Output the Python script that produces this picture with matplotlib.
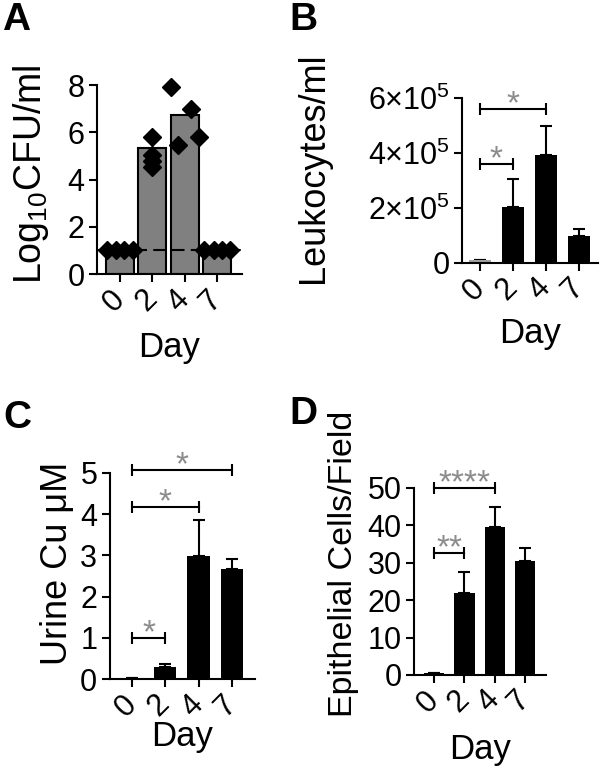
import matplotlib
matplotlib.use('Agg')
import matplotlib.pyplot as plt
import numpy as np

plt.rcParams['font.family'] = ['Liberation Sans', 'DejaVu Sans']
plt.rcParams['mathtext.fontset'] = 'custom'
plt.rcParams['mathtext.rm'] = 'Liberation Sans'
plt.rcParams['mathtext.it'] = 'Liberation Sans:italic'
plt.rcParams['axes.linewidth'] = 1.5

# data
days = ['0', '2', '4', '7']

cfu_mean = [1.0, 5.35, 6.75, 1.0]
cfu_points = [[1.0, 1.0, 1.0, 1.0],
              [5.8, 5.05, 4.8, 4.55],
              [7.9, 5.45, 7.0, 5.8],
              [1.0, 1.0, 1.0, 1.0]]
cfu_limit = 1.0

leuk_mean = [0.12e5, 2.05e5, 3.92e5, 0.97e5]
leuk_err = [0, 1.0e5, 1.08e5, 0.28e5]
leuk_sig = [(0, 1, 3.6e5, '*'), (0, 2, 5.6e5, '*')]

cu_mean = [0.03, 0.29, 2.98, 2.68]
cu_err = [0, 0.08, 0.89, 0.23]
cu_sig = [(0, 1, 1.0, '*'), (0, 2, 4.17, '*'), (0, 3, 5.08, '*')]

epi_mean = [0.6, 21.9, 39.5, 30.4]
epi_err = [0, 5.6, 5.3, 3.5]
epi_sig = [(0, 1, 32.6, '**'), (0, 2, 50, '****')]

# horizontal scatter of the dots inside each bar (layout only)
jitter = [[-0.4, -0.12, 0.13, 0.4],
          [0, 0, 0, 0],
          [-0.41, -0.2, 0.2, 0.43],
          [-0.41, -0.1, 0.15, 0.41]]

TICK = 22
STAR = '#8c8c8c'

fig = plt.figure(figsize=(6, 7.73), dpi=100)


def style(ax, xlim, ylim, yticks, ylabel, labsize, ylab_xy, xlab_y):
    x = np.arange(len(days))
    ax.set_xlim(*xlim)
    ax.set_ylim(*ylim)
    ax.set_xticks(x)
    ax.set_xticklabels(days, rotation=45, ha='right', va='center',
                       rotation_mode='anchor')
    ax.set_yticks(yticks)
    for s in ['top', 'right']:
        ax.spines[s].set_visible(False)
    ax.tick_params(length=6, width=1.5, labelsize=TICK, pad=3)
    ax.tick_params(axis='x', pad=9)
    ax.set_ylabel(ylabel, fontsize=labsize)
    ax.yaxis.set_label_coords(*ylab_xy)
    ax.set_xlabel('Day', fontsize=25)
    ax.xaxis.set_label_coords(0.5, xlab_y)


def brackets(ax, sig):
    for a, b, y, txt in sig:
        ax.plot([a, b], [y, y], color='k', lw=1.5, marker='|', ms=9, mew=1.5,
                clip_on=False)
        ax.annotate(txt, xy=((a + b) / 2, y), xytext=(0, -3),
                    textcoords='offset points', ha='center', va='baseline',
                    fontsize=24, color=STAR, annotation_clip=False)


def bar_panel(rect, mean, err, colors, xlim, ylim, yticks, ylabel, labsize,
              ylab_xy, xlab_y):
    ax = fig.add_axes(rect)
    x = np.arange(len(days))
    ax.bar(x, mean, width=0.67, color=colors, edgecolor='none', zorder=2)
    ax.errorbar(x, mean, yerr=[np.zeros(len(err)), err], fmt='none', ecolor='k',
                elinewidth=1.5, capsize=4.5, capthick=1.5, zorder=1)
    style(ax, xlim, ylim, yticks, ylabel, labsize, ylab_xy, xlab_y)
    return ax


# A
axA = fig.add_axes([0.162, 0.6455, 0.241, 0.2445])
xA = np.arange(len(days))
axA.bar(xA, cfu_mean, width=0.87, color='#808080', edgecolor='k', lw=1.5, zorder=2)
axA.plot([-0.71, 3.77], [cfu_limit, cfu_limit], color='k', lw=1.5,
         dashes=(6, 3), zorder=3)
for i, pts in enumerate(cfu_points):
    axA.plot(np.array(jitter[i]) + i, pts, 'D', color='k', ms=9, zorder=4,
             clip_on=False)
style(axA, (-0.71, 3.77), (0, 8), [0, 2, 4, 6, 8], 'Log$_{10}$CFU/ml', 27,
      (-0.32, 0.53), -0.3)

# B
axB = bar_panel([0.77, 0.6598, 0.227, 0.2133], leuk_mean, leuk_err,
                ['#a0a0a0', 'k', 'k', 'k'], (-0.55, 3.6), (0, 6e5),
                [0, 2e5, 4e5, 6e5], 'Leukocytes/ml', 26, (-0.96, 0.58), -0.33)
axB.set_yticklabels(['0', r'2×10$^5$', r'4×10$^5$', r'6×10$^5$'])
brackets(axB, leuk_sig)

# C
axC = bar_panel([0.183, 0.1216, 0.242, 0.2665], cu_mean, cu_err,
                ['k', 'k', 'k', 'k'], (-0.66, 3.69), (0, 5),
                [0, 1, 2, 3, 4, 5], 'Urine Cu μM', 26, (-0.24, 0.563), -0.2)
brackets(axC, cu_sig)

# D
axD = bar_panel([0.69, 0.1268, 0.22, 0.2419], epi_mean, epi_err,
                ['k', 'k', 'k', 'k'], (-0.66, 3.69), (0, 50),
                [0, 10, 20, 30, 40, 50], 'Epithelial Cells/Field', 24.5,
                (-0.42, 0.594), -0.31)
brackets(axD, epi_sig)

# panel letters
for lab, x, y in [('A', 0.003, 0.998), ('B', 0.482, 0.998),
                  ('C', 0.005, 0.482), ('D', 0.482, 0.488)]:
    fig.text(x, y, lab, fontsize=28, fontweight='bold', va='top', ha='left')

fig.savefig('out.png', dpi=100)
